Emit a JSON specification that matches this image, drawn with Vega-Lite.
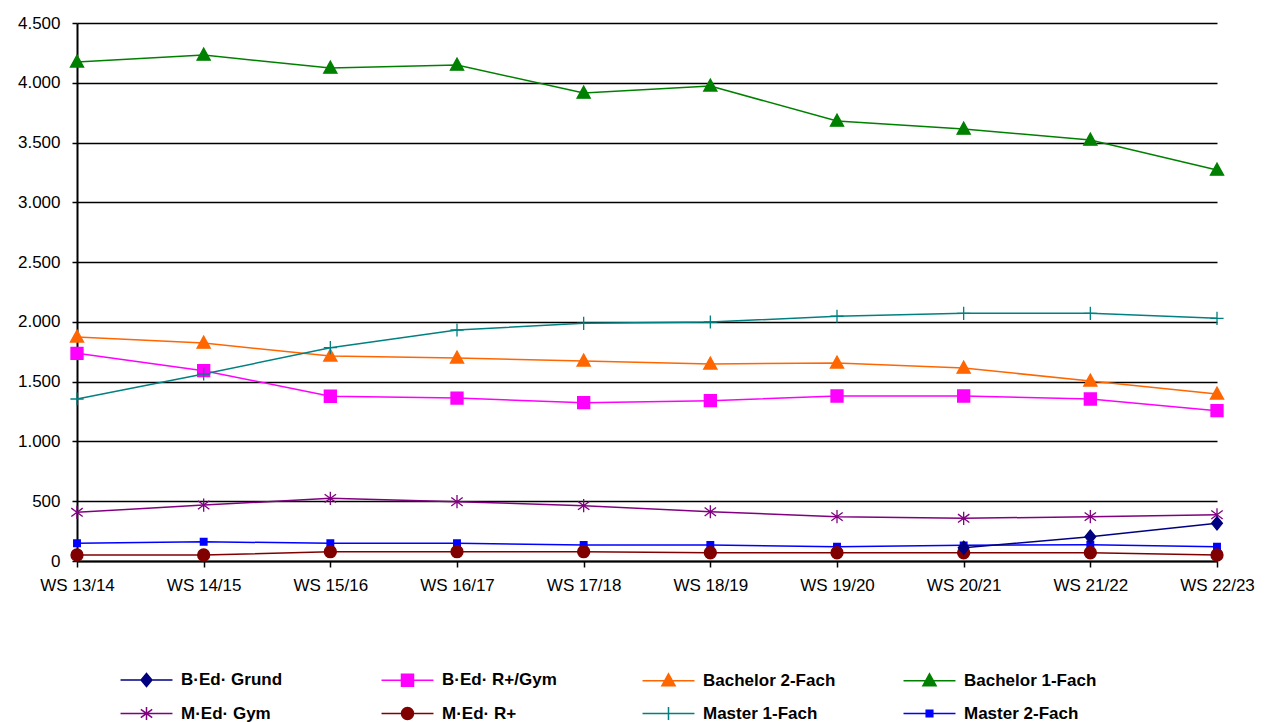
{
  "$schema": "https://vega.github.io/schema/vega-lite/v6.json",
  "width": 1140,
  "height": 538,
  "autosize": {"type": "none"},
  "padding": {"left": 77, "top": 23, "right": 63, "bottom": 161},
  "background": "white",
  "config": {
    "view": {"stroke": null},
    "font": "Liberation Sans",
    "axis": {"labelFont": "Liberation Sans", "labelFontSize": 17, "labelColor": "#000000", "domainColor": "#000000", "tickColor": "#000000", "title": null}
  },
  "data": {
    "values": [
      {"sem": "WS 13/14", "series": "Bachelor 1-Fach", "value": 4174},
      {"sem": "WS 14/15", "series": "Bachelor 1-Fach", "value": 4232},
      {"sem": "WS 15/16", "series": "Bachelor 1-Fach", "value": 4123},
      {"sem": "WS 16/17", "series": "Bachelor 1-Fach", "value": 4148},
      {"sem": "WS 17/18", "series": "Bachelor 1-Fach", "value": 3914},
      {"sem": "WS 18/19", "series": "Bachelor 1-Fach", "value": 3973},
      {"sem": "WS 19/20", "series": "Bachelor 1-Fach", "value": 3680},
      {"sem": "WS 20/21", "series": "Bachelor 1-Fach", "value": 3613},
      {"sem": "WS 21/22", "series": "Bachelor 1-Fach", "value": 3521},
      {"sem": "WS 22/23", "series": "Bachelor 1-Fach", "value": 3270},
      {"sem": "WS 13/14", "series": "Bachelor  2-Fach", "value": 1874},
      {"sem": "WS 14/15", "series": "Bachelor  2-Fach", "value": 1823},
      {"sem": "WS 15/16", "series": "Bachelor  2-Fach", "value": 1715},
      {"sem": "WS 16/17", "series": "Bachelor  2-Fach", "value": 1698},
      {"sem": "WS 17/18", "series": "Bachelor  2-Fach", "value": 1673},
      {"sem": "WS 18/19", "series": "Bachelor  2-Fach", "value": 1648},
      {"sem": "WS 19/20", "series": "Bachelor  2-Fach", "value": 1656},
      {"sem": "WS 20/21", "series": "Bachelor  2-Fach", "value": 1614},
      {"sem": "WS 21/22", "series": "Bachelor  2-Fach", "value": 1506},
      {"sem": "WS 22/23", "series": "Bachelor  2-Fach", "value": 1397},
      {"sem": "WS 13/14", "series": "B·Ed· R+/Gym", "value": 1737},
      {"sem": "WS 14/15", "series": "B·Ed· R+/Gym", "value": 1592},
      {"sem": "WS 15/16", "series": "B·Ed· R+/Gym", "value": 1378},
      {"sem": "WS 16/17", "series": "B·Ed· R+/Gym", "value": 1363},
      {"sem": "WS 17/18", "series": "B·Ed· R+/Gym", "value": 1324},
      {"sem": "WS 18/19", "series": "B·Ed· R+/Gym", "value": 1341},
      {"sem": "WS 19/20", "series": "B·Ed· R+/Gym", "value": 1380},
      {"sem": "WS 20/21", "series": "B·Ed· R+/Gym", "value": 1380},
      {"sem": "WS 21/22", "series": "B·Ed· R+/Gym", "value": 1355},
      {"sem": "WS 22/23", "series": "B·Ed· R+/Gym", "value": 1257},
      {"sem": "WS 13/14", "series": "Master 1-Fach", "value": 1355},
      {"sem": "WS 14/15", "series": "Master 1-Fach", "value": 1564},
      {"sem": "WS 15/16", "series": "Master 1-Fach", "value": 1784},
      {"sem": "WS 16/17", "series": "Master 1-Fach", "value": 1932},
      {"sem": "WS 17/18", "series": "Master 1-Fach", "value": 1988},
      {"sem": "WS 18/19", "series": "Master 1-Fach", "value": 1999},
      {"sem": "WS 19/20", "series": "Master 1-Fach", "value": 2047},
      {"sem": "WS 20/21", "series": "Master 1-Fach", "value": 2072},
      {"sem": "WS 21/22", "series": "Master 1-Fach", "value": 2072},
      {"sem": "WS 22/23", "series": "Master 1-Fach", "value": 2030},
      {"sem": "WS 13/14", "series": "M·Ed· Gym", "value": 407},
      {"sem": "WS 14/15", "series": "M·Ed· Gym", "value": 468},
      {"sem": "WS 15/16", "series": "M·Ed· Gym", "value": 524},
      {"sem": "WS 16/17", "series": "M·Ed· Gym", "value": 496},
      {"sem": "WS 17/18", "series": "M·Ed· Gym", "value": 463},
      {"sem": "WS 18/19", "series": "M·Ed· Gym", "value": 412},
      {"sem": "WS 19/20", "series": "M·Ed· Gym", "value": 371},
      {"sem": "WS 20/21", "series": "M·Ed· Gym", "value": 357},
      {"sem": "WS 21/22", "series": "M·Ed· Gym", "value": 371},
      {"sem": "WS 22/23", "series": "M·Ed· Gym", "value": 387},
      {"sem": "WS 13/14", "series": "Master 2-Fach", "value": 148},
      {"sem": "WS 14/15", "series": "Master 2-Fach", "value": 161},
      {"sem": "WS 15/16", "series": "Master 2-Fach", "value": 148},
      {"sem": "WS 16/17", "series": "Master 2-Fach", "value": 148},
      {"sem": "WS 17/18", "series": "Master 2-Fach", "value": 134},
      {"sem": "WS 18/19", "series": "Master 2-Fach", "value": 134},
      {"sem": "WS 19/20", "series": "Master 2-Fach", "value": 120},
      {"sem": "WS 20/21", "series": "Master 2-Fach", "value": 131},
      {"sem": "WS 21/22", "series": "Master 2-Fach", "value": 136},
      {"sem": "WS 22/23", "series": "Master 2-Fach", "value": 120},
      {"sem": "WS 13/14", "series": "M·Ed· R+", "value": 50},
      {"sem": "WS 14/15", "series": "M·Ed· R+", "value": 50},
      {"sem": "WS 15/16", "series": "M·Ed· R+", "value": 78},
      {"sem": "WS 16/17", "series": "M·Ed· R+", "value": 78},
      {"sem": "WS 17/18", "series": "M·Ed· R+", "value": 78},
      {"sem": "WS 18/19", "series": "M·Ed· R+", "value": 69},
      {"sem": "WS 19/20", "series": "M·Ed· R+", "value": 69},
      {"sem": "WS 20/21", "series": "M·Ed· R+", "value": 69},
      {"sem": "WS 21/22", "series": "M·Ed· R+", "value": 69},
      {"sem": "WS 22/23", "series": "M·Ed· R+", "value": 50},
      {"sem": "WS 20/21", "series": "B·Ed· Grund", "value": 110},
      {"sem": "WS 21/22", "series": "B·Ed· Grund", "value": 203},
      {"sem": "WS 22/23", "series": "B·Ed· Grund", "value": 315}
    ]
  },
  "layer": [
    {
      "mark": {"type": "line", "strokeWidth": 1.5},
      "encoding": {
        "x": {"field": "sem", "type": "ordinal", "scale": {"type": "point", "padding": 0},
          "axis": {"labelAngle": 0, "domainWidth": 2, "tickSize": 6, "tickWidth": 1.5, "labelPadding": 10, "grid": false}},
        "y": {"field": "value", "type": "quantitative", "scale": {"domain": [0, 4500], "nice": false},
          "axis": {"values": [0, 500, 1000, 1500, 2000, 2500, 3000, 3500, 4000, 4500], "grid": true, "gridColor": "#000000", "gridWidth": 1.5, "gridOpacity": 1, "domainWidth": 2, "tickSize": 5, "tickWidth": 1.5, "labelPadding": 12,
            "labelExpr": "replace(format(datum.value, ','), ',', '.')"}},
        "stroke": {"field": "series", "type": "nominal", "legend": null,
          "scale": {"domain": ["B·Ed· Grund", "B·Ed· R+/Gym", "Bachelor  2-Fach", "Bachelor 1-Fach", "M·Ed· Gym", "M·Ed· R+", "Master 1-Fach", "Master 2-Fach"],
            "range": ["#000080", "#FF00FF", "#FF6600", "#008000", "#800080", "#800000", "#008080", "#0000FF"]}}
      }
    },
    {
      "mark": {"type": "point", "filled": true, "size": 144, "opacity": 1, "strokeWidth": 1.3},
      "encoding": {
        "x": {"field": "sem", "type": "ordinal"},
        "y": {"field": "value", "type": "quantitative"},
        "fill": {"field": "series", "type": "nominal", "legend": null,
          "scale": {"domain": ["B·Ed· Grund", "B·Ed· R+/Gym", "Bachelor  2-Fach", "Bachelor 1-Fach", "M·Ed· Gym", "M·Ed· R+", "Master 1-Fach", "Master 2-Fach"],
            "range": ["#000080", "#FF00FF", "#FF6600", "#008000", "#800080", "#800000", "#008080", "#0000FF"]}},
        "stroke": {"field": "series", "type": "nominal", "legend": null,
          "scale": {"domain": ["B·Ed· Grund", "B·Ed· R+/Gym", "Bachelor  2-Fach", "Bachelor 1-Fach", "M·Ed· Gym", "M·Ed· R+", "Master 1-Fach", "Master 2-Fach"],
            "range": ["#000080", "#FF00FF", "#FF6600", "#008000", "#800080", "#800000", "#008080", "#0000FF"]}},
        "shape": {"field": "series", "type": "nominal", "legend": null,
          "scale": {"domain": ["B·Ed· Grund", "B·Ed· R+/Gym", "Bachelor  2-Fach", "Bachelor 1-Fach", "M·Ed· Gym", "M·Ed· R+", "Master 1-Fach", "Master 2-Fach"],
            "range": [
              "M0,-1.1L0.9,0L0,1.1L-0.9,0Z",
              "M-1,-1L1,-1L1,1L-1,1Z",
              "M0,-1.15L1.1,0.85L-1.1,0.85Z",
              "M0,-1.15L1.1,0.85L-1.1,0.85Z",
              "M0,-1.1L0,1.1M-0.95,-0.7L0.95,0.7M-0.95,0.7L0.95,-0.7",
              "M-1,0A1,1 0 1,0 1,0A1,1 0 1,0 -1,0Z",
              "M-1.1,0L1.1,0M0,-1.1L0,1.1",
              "M-0.55,-0.55L0.55,-0.55L0.55,0.55L-0.55,0.55Z"
            ]}}
      }
    },
    {
      "transform": [{"filter": "false"}],
      "mark": {"type": "point", "filled": true, "size": 144, "opacity": 1, "strokeWidth": 1.5},
      "encoding": {
        "fill": {"field": "series", "type": "nominal",
          "scale": {"domain": ["B·Ed· Grund", "M·Ed· Gym", "B·Ed· R+/Gym", "M·Ed· R+", "Bachelor  2-Fach", "Master 1-Fach", "Bachelor 1-Fach", "Master 2-Fach"],
            "range": ["#000080", "#800080", "#FF00FF", "#800000", "#FF6600", "#008080", "#008000", "#0000FF"]},
          "legend": {"title": null, "orient": "none", "legendX": 61, "legendY": 648, "columns": 4, "gridAlign": "all", "columnPadding": 60, "rowPadding": 13, "padding": 0, "symbolSize": 144, "symbolStrokeWidth": 1.5, "symbolOpacity": 1, "labelOffset": 26, "labelFont": "Liberation Sans", "labelFontWeight": "bold", "labelFontSize": 17, "labelColor": "#000000", "labelLimit": 300}},
        "stroke": {"field": "series", "type": "nominal",
          "scale": {"domain": ["B·Ed· Grund", "M·Ed· Gym", "B·Ed· R+/Gym", "M·Ed· R+", "Bachelor  2-Fach", "Master 1-Fach", "Bachelor 1-Fach", "Master 2-Fach"],
            "range": ["#000080", "#800080", "#FF00FF", "#800000", "#FF6600", "#008080", "#008000", "#0000FF"]},
          "legend": {"title": null, "orient": "none", "legendX": 61, "legendY": 648, "columns": 4, "gridAlign": "all", "columnPadding": 60, "rowPadding": 13, "padding": 0, "symbolSize": 144, "symbolStrokeWidth": 1.5, "symbolOpacity": 1, "labelOffset": 26, "labelFont": "Liberation Sans", "labelFontWeight": "bold", "labelFontSize": 17, "labelColor": "#000000", "labelLimit": 300}},
        "shape": {"field": "series", "type": "nominal",
          "scale": {"domain": ["B·Ed· Grund", "M·Ed· Gym", "B·Ed· R+/Gym", "M·Ed· R+", "Bachelor  2-Fach", "Master 1-Fach", "Bachelor 1-Fach", "Master 2-Fach"],
            "range": [
              "M-4.33,0L4.33,0M0,-1.1L0.9,0L0,1.1L-0.9,0Z",
              "M-4.33,0L4.33,0M0,-1.1L0,1.1M-0.95,-0.7L0.95,0.7M-0.95,0.7L0.95,-0.7",
              "M-4.33,0L4.33,0M-1,-1L1,-1L1,1L-1,1Z",
              "M-4.33,0L4.33,0M-1,0A1,1 0 1,0 1,0A1,1 0 1,0 -1,0Z",
              "M-4.33,0L4.33,0M0,-1.15L1.1,0.85L-1.1,0.85Z",
              "M-4.33,0L4.33,0M0,-1.1L0,1.1",
              "M-4.33,0L4.33,0M0,-1.15L1.1,0.85L-1.1,0.85Z",
              "M-4.33,0L4.33,0M-0.55,-0.55L0.55,-0.55L0.55,0.55L-0.55,0.55Z"
            ]},
          "legend": {"title": null, "orient": "none", "legendX": 61, "legendY": 648, "columns": 4, "gridAlign": "all", "columnPadding": 60, "rowPadding": 13, "padding": 0, "symbolSize": 144, "symbolStrokeWidth": 1.5, "symbolOpacity": 1, "labelOffset": 26, "labelFont": "Liberation Sans", "labelFontWeight": "bold", "labelFontSize": 17, "labelColor": "#000000", "labelLimit": 300}}
      }
    }
  ],
  "resolve": {"scale": {"fill": "independent", "stroke": "independent", "shape": "independent"}}
}
